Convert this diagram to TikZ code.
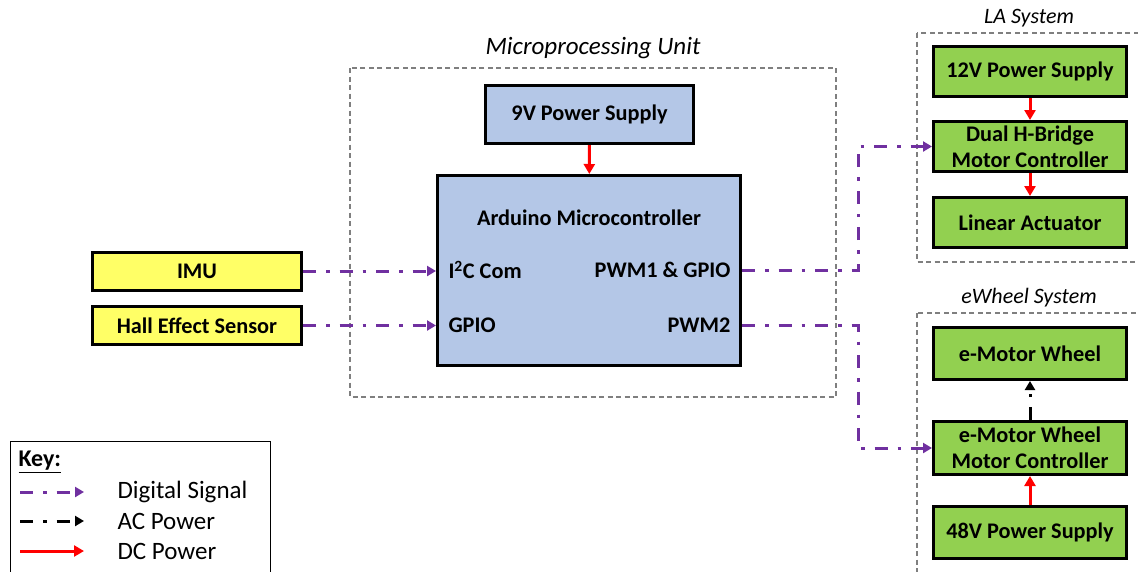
\documentclass[tikz,border=0pt]{standalone}
\usepackage{fontspec}
\setmainfont{Carlito}
\usetikzlibrary{arrows.meta}
\definecolor{ublue}{HTML}{B4C7E7}
\definecolor{uyel}{HTML}{FFFF66}
\definecolor{ugreen}{HTML}{92D050}
\definecolor{upurp}{HTML}{7030A0}
\definecolor{ured}{HTML}{FF0000}
\definecolor{ugray}{HTML}{7F7F7F}
\tikzset{
  blk/.style={draw=black, line width=3pt, align=center, inner sep=2pt,
    font=\fontsize{22.3}{26}\selectfont\bfseries},
  grp/.style={draw=ugray, line width=1.2pt, dash pattern=on 5pt off 3.5pt},
  grptitle/.style={font=\fontsize{22}{26}\selectfont\itshape},
  lbl/.style={font=\fontsize{22.3}{26}\selectfont\bfseries},
  sig/.style={draw=upurp, line width=3pt, dash pattern=on 13pt off 10pt on 3.5pt off 10pt,
    -{Triangle[length=9pt,width=10pt]}},
  acp/.style={draw=black, line width=3pt, dash pattern=on 13pt off 10pt on 3.5pt off 10pt,
    -{Triangle[length=9pt,width=10pt]}},
  dcp/.style={draw=ured, line width=3pt, -{Triangle[length=10pt,width=11pt]}},
  keytxt/.style={font=\fontsize{25}{28}\selectfont, anchor=west},
}
\begin{document}
\begin{tikzpicture}[x=1pt,y=-1pt]
\clip (0,0) rectangle (1138,571);
\fill[white] (0,0) rectangle (1138,571);

% groups
\draw[grp] (350,68) rectangle (836,397);
\node[grptitle, font=\fontsize{25}{28}\selectfont\itshape] (tmpu) at (593,48) {Microprocessing Unit};
\draw[grp] (917,33) rectangle (1160,262);
\node[grptitle] (tla) at (1029,18) {LA System};
\draw[grp] (917,313) rectangle (1160,600);
\node[grptitle] (tew) at (1029,298) {eWheel System};

% microprocessing unit
\node[blk, fill=ublue, minimum width=208, minimum height=58] (ps9) at (589.5,114.5) {9V Power Supply};
\node[blk, fill=ublue, minimum width=303, minimum height=190] (ard) at (589,270.5) {};
\node[lbl] (ardt) at (589,218) {Arduino Microcontroller};
\node[lbl, anchor=west] (i2c) at (445,270) {I\textsuperscript{2}C Com};
\node[lbl, anchor=east] (pwm1) at (734,270) {PWM1 \& GPIO};
\node[lbl, anchor=west] (gpio) at (445,325) {GPIO};
\node[lbl, anchor=east] (pwm2) at (734,325) {PWM2};

% sensors
\node[blk, fill=uyel, minimum width=209, minimum height=38] (imu) at (197,271) {IMU};
\node[blk, fill=uyel, minimum width=209, minimum height=38] (hall) at (197,325.5) {Hall Effect Sensor};

% LA system
\node[blk, fill=ugreen, minimum width=193, minimum height=50] (ps12) at (1030,71.5) {12V Power Supply};
\node[blk, fill=ugreen, minimum width=193, minimum height=50] (hb) at (1030,146.5) {Dual H-Bridge\\Motor Controller};
\node[blk, fill=ugreen, minimum width=193, minimum height=50] (la) at (1030,222.5) {Linear Actuator};

% eWheel system
\node[blk, fill=ugreen, minimum width=193, minimum height=52] (mw) at (1030,353.5) {e-Motor Wheel};
\node[blk, fill=ugreen, minimum width=193, minimum height=53] (mc) at (1030,448) {e-Motor Wheel\\Motor Controller};
\node[blk, fill=ugreen, minimum width=193, minimum height=52] (ps48) at (1030,532.5) {48V Power Supply};

% connectors
\draw[dcp] (ps9) -- (ard);
\draw[dcp] (ps12) -- (hb);
\draw[dcp] (hb) -- (la);
\draw[dcp] (ps48) -- (mc);
\draw[acp] (mc) -- (mw);
\draw[sig] (imu.east) -- (imu.east -| ard.west);
\draw[sig] (hall.east) -- (hall.east -| ard.west);
\coordinate (j1) at (858,270);
\coordinate (j2) at (858,325);
\draw[sig] (ard.east |- j1) -- (j1) |- (hb.west);
\draw[sig] (ard.east |- j2) -- (j2) |- (mc.west);

% key
\node[draw=black, line width=1pt, minimum width=260, minimum height=160, anchor=north west] (key) at (10,441) {};
\node[font=\fontsize{24}{28}\selectfont\bfseries, anchor=west] (keyt) at (15,462) {\underline{Key:}};
\coordinate (k1a) at (20,492); \coordinate (k1b) at (84,492);
\coordinate (k2a) at (20,521); \coordinate (k2b) at (84,521);
\coordinate (k3a) at (20,551); \coordinate (k3b) at (84,551);
\draw[sig] (k1a) -- (k1b);
\draw[acp] (k2a) -- (k2b);
\draw[dcp] (k3a) -- (k3b);
\node[keytxt] (kd) at (114,492) {Digital Signal};
\node[keytxt] (ka) at (114,521) {AC Power};
\node[keytxt] (kc) at (114,551) {DC Power};
\end{tikzpicture}
\end{document}
